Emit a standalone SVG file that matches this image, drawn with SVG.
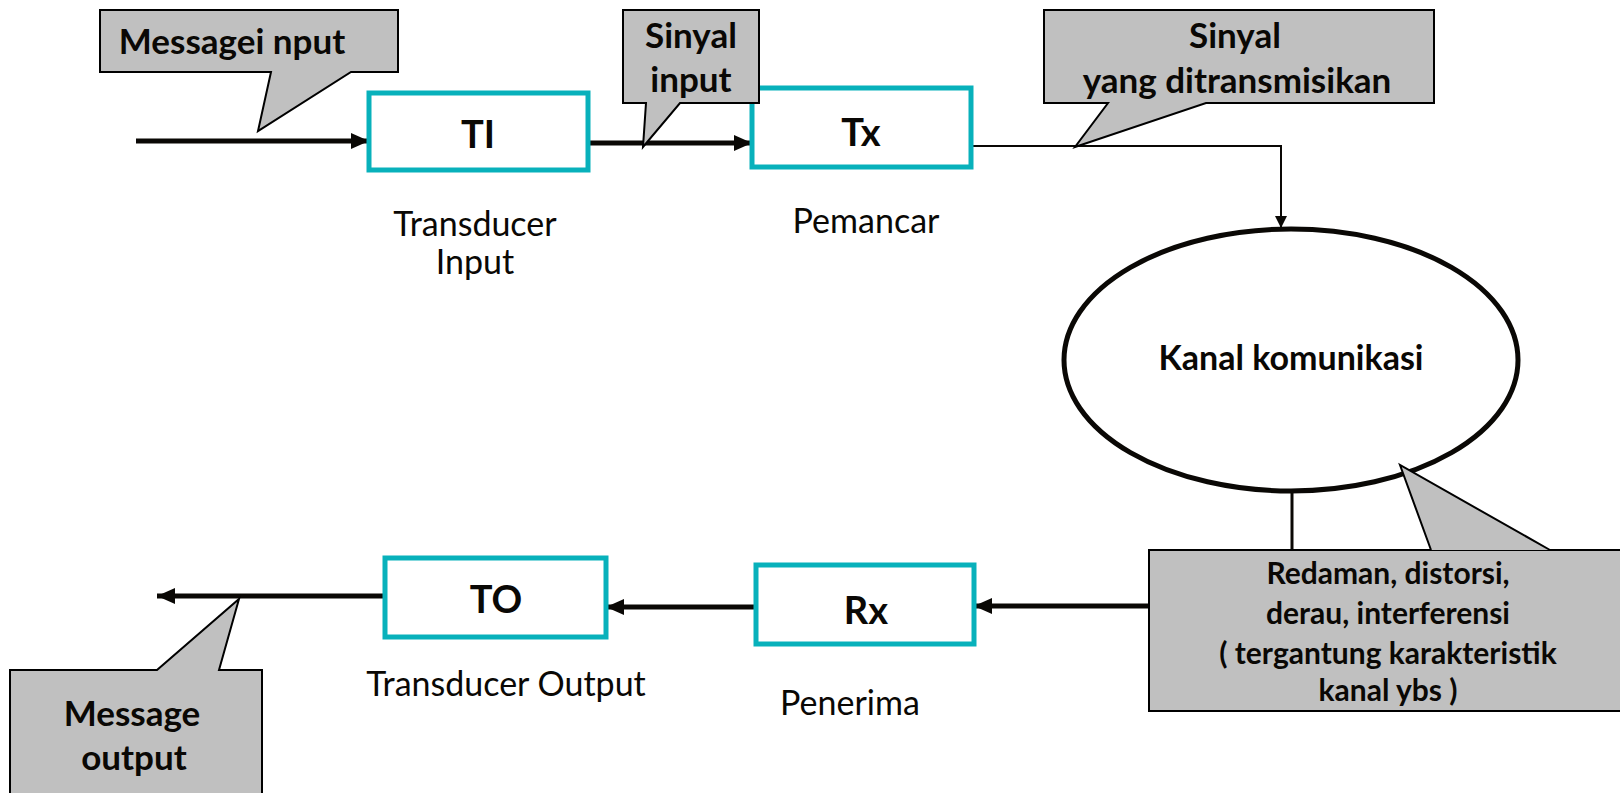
<svg xmlns="http://www.w3.org/2000/svg" width="1620" height="793" viewBox="0 0 1620 793">
<style>
.box{fill:#fff;stroke:#08B1BB;stroke-width:5}
.call{fill:#C0C0C0;stroke:#000;stroke-width:2;stroke-linejoin:miter}
.thick{stroke:#0a0805;stroke-width:5;fill:none}
.thin{stroke:#0a0805;stroke-width:2;fill:none}
.b{font-family:Lato,"Liberation Sans",sans-serif;font-weight:bold;fill:#0a0805;text-anchor:middle}
.c{font-size:35px}
.r{font-family:Lato,"Liberation Sans",sans-serif;fill:#0a0805;text-anchor:middle;font-size:34px}
</style>
<defs>
<marker id="ah" markerUnits="userSpaceOnUse" markerWidth="20" markerHeight="18" refX="18" refY="8" orient="auto"><path d="M0,0 L18,8 L0,16 Z" fill="#0a0805"/></marker>
<marker id="ahs" markerUnits="userSpaceOnUse" markerWidth="12" markerHeight="14" refX="12" refY="6" orient="auto"><path d="M0,0 L12,6 L0,12 Z" fill="#0a0805"/></marker>
</defs>
<rect width="1620" height="793" fill="#fff"/>
<g id="connectors">
<line class="thick" x1="136" y1="141" x2="369" y2="141" marker-end="url(#ah)"/>
<line class="thick" x1="588" y1="143" x2="752" y2="143" marker-end="url(#ah)"/>
<polyline class="thin" points="971,146 1281,146 1281,228" marker-end="url(#ahs)"/>
<line class="thin" x1="1292" y1="490" x2="1292" y2="550" style="stroke-width:3"/>
<line class="thick" x1="1149" y1="606" x2="974" y2="606" marker-end="url(#ah)"/>
<line class="thick" x1="756" y1="607" x2="606" y2="607" marker-end="url(#ah)"/>
<line class="thick" x1="385" y1="596" x2="157" y2="596" marker-end="url(#ah)"/>
</g>
<g id="TI"><rect class="box" x="369" y="93" width="219" height="77"/><text class="b" x="478" y="148" font-size="38">TI</text></g>
<g id="Tx"><rect class="box" x="752" y="88" width="219" height="79"/><text class="b" x="861" y="146" font-size="38">Tx</text></g>
<g id="Rx"><rect class="box" x="756" y="565" width="218" height="79"/><text class="b" x="866" y="624" font-size="38">Rx</text></g>
<g id="TO"><rect class="box" x="385" y="558" width="221" height="79"/><text class="b" x="496" y="613" font-size="38">TO</text></g>
<g id="kanal"><ellipse cx="1291" cy="360" rx="227" ry="131" fill="#fff" stroke="#0a0805" stroke-width="5"/><text class="b" x="1291" y="370" font-size="34">Kanal komunikasi</text></g>
<g id="label-ti"><text class="r" x="475" y="236" font-size="31">Transducer</text><text class="r" x="475" y="274" font-size="31">Input</text></g>
<g id="label-tx"><text class="r" x="866" y="233">Pemancar</text></g>
<g id="label-rx"><text class="r" x="850" y="715">Penerima</text></g>
<g id="label-to"><text class="r" x="506" y="696">Transducer Output</text></g>
<g id="callout-msgin"><path class="call" d="M100,10 H398 V72 H351 L258,131 L271,72 H100 Z"/><text class="b c" x="232" y="54">Messagei nput</text></g>
<g id="callout-sinyal-input"><path class="call" d="M623,10 H759 V103 H680 L643,147 L646,103 H623 Z"/><text class="b c" x="691" y="48">Sinyal</text><text class="b c" x="691" y="92">input</text></g>
<g id="callout-sinyal-tx"><path class="call" d="M1044,10 H1434 V103 H1206 L1075,147 L1108,103 H1044 Z"/><text class="b c" x="1235" y="48">Sinyal</text><text class="b c" x="1237" y="93">yang ditransmisikan</text></g>
<g id="callout-redaman"><path class="call" d="M1149,550 H1622 V711 H1149 Z"/><path class="call" d="M1431,550 L1400,465 L1550,550"/><text class="b" x="1388" y="584" font-size="30">Redaman, distorsi,</text><text class="b" x="1388" y="624" font-size="30">derau, interferensi</text><text class="b" x="1388" y="664" font-size="30">( tergantung karakteristik</text><text class="b" x="1388" y="701" font-size="30">kanal ybs )</text></g>
<g id="callout-msgout"><path class="call" d="M10,670 H157 L239,599 L219,670 H262 V800 H10 Z"/><text class="b c" x="132" y="726">Message</text><text class="b c" x="134" y="770">output</text></g>
</svg>
